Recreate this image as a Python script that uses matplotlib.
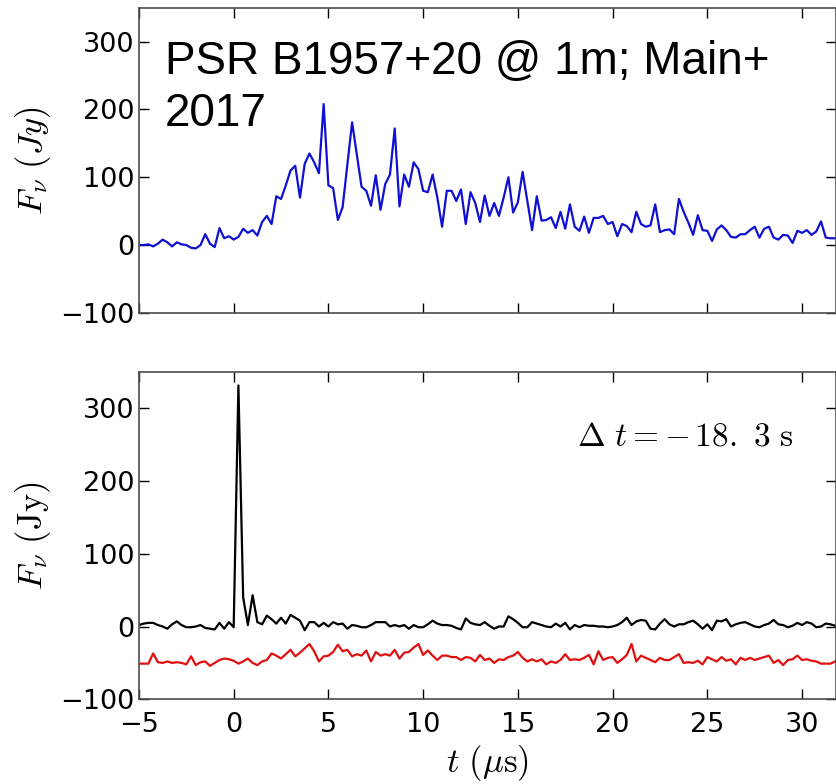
import numpy as np
import matplotlib
matplotlib.use("Agg")
import matplotlib.pyplot as plt

plt.rcParams['mathtext.fontset'] = 'cm'
plt.rcParams['font.family'] = ['DejaVu Sans']

# time grid step (microseconds), starting at -5
dt = 0.25
t_start = -5.0

# top panel: main pulse flux (Jy)
main_flux = [
    0, 0, 1, -2, 2, 8, 4, -2, 4, 1,
    0, -4, -5, 0, 16, 2, -3, 25, 10, 13,
    8, 12, 24, 18, 22, 14, 34, 43, 31, 72,
    68, 88, 110, 117, 70, 120, 135, 122, 106, 208,
    88, 84, 37, 56, 118, 181, 133, 86, 80, 58,
    103, 52, 90, 104, 172, 57, 104, 86, 122, 112,
    80, 78, 104, 70, 27, 80, 80, 65, 82, 31,
    78, 62, 34, 73, 43, 62, 43, 70, 100, 48,
    63, 108, 65, 22, 72, 36, 37, 41, 25, 49,
    24, 60, 27, 21, 42, 18, 40, 40, 43, 31,
    34, 13, 31, 28, 19, 49, 31, 27, 29, 60,
    19, 22, 23, 16, 68, 49, 33, 15, 44, 22,
    21, 6, 23, 29, 22, 12, 11, 16, 16, 22,
    27, 11, 24, 27, 11, 8, 15, 14, 3, 21,
    18, 22, 15, 20, 35, 11, 10, 10, 10,
]

# bottom panel: giant pulse (black) and offset trace (red)
giant_flux = [
    2, 4, 5, 5, 2, 0, -3, 3, 7, 2,
    -1, -1, 0, 2, -2, -3, -4, 5, -3, 6,
    -1, 331, 40, 2, 43, 6, 3, 15, 10, 4,
    12, 4, 16, 12, 8, -5, 6, 6, 0, 5,
    0, 6, 3, 4, -3, 2, 1, -1, -1, 2,
    6, 6, 6, 0, 2, 0, 2, -3, 2, -1,
    -1, 3, 8, 4, 2, 2, 1, -2, -4, 11,
    5, 3, 2, 6, 1, -3, 0, 0, 14, 10,
    5, -1, -1, 6, 4, 2, 0, -1, 4, 0,
    5, -4, 2, -1, 2, 1, 1, 0, 0, -1,
    0, 2, 6, 12, 2, 7, 9, 8, -3, -4,
    4, 10, 3, 0, 3, 3, 6, 8, 3, -3,
    3, -5, 8, 7, 10, 0, 3, 5, 6, 3,
    0, -1, 2, 4, 9, 3, 2, -1, 1, 5,
    2, 6, 4, -1, 0, 4, 3, 1, 1,
]

offset_flux = [
    -51, -51, -51, -37, -49, -50, -48, -50, -49, -50,
    -52, -41, -53, -49, -48, -54, -50, -46, -44, -45,
    -47, -51, -48, -44, -50, -53, -48, -46, -37, -40,
    -44, -38, -32, -41, -36, -30, -24, -34, -48, -41,
    -40, -35, -25, -34, -32, -41, -38, -40, -33, -48,
    -35, -40, -38, -40, -32, -44, -36, -35, -29, -24,
    -39, -33, -40, -46, -40, -40, -42, -42, -46, -42,
    -43, -48, -39, -46, -44, -50, -45, -46, -42, -40,
    -35, -43, -48, -45, -48, -45, -52, -48, -50, -46,
    -38, -46, -45, -46, -43, -39, -52, -34, -46, -43,
    -42, -50, -45, -39, -24, -48, -40, -43, -46, -49,
    -43, -46, -46, -42, -38, -50, -49, -50, -47, -52,
    -42, -45, -48, -42, -47, -45, -52, -43, -46, -43,
    -46, -44, -42, -40, -50, -46, -53, -46, -45, -40,
    -46, -45, -47, -48, -51, -51, -51, -48, -47,
]

x_ticks = [-5, 0, 5, 10, 15, 20, 25, 30]
y_ticks = [-100, 0, 100, 200, 300]

t_main = t_start + dt * np.arange(len(main_flux))
t_giant = t_start + dt * np.arange(len(giant_flux))

fig = plt.figure(figsize=(8.37, 7.84), dpi=100)
ax1 = fig.add_axes([0.166, 0.601, 0.833, 0.389])
ax2 = fig.add_axes([0.166, 0.108, 0.833, 0.418])

ax1.plot(t_main, main_flux, color='#1010d0', lw=1.6)
ax2.plot(t_giant, giant_flux, color='k', lw=1.6)
ax2.plot(t_giant, offset_flux, color='#e01010', lw=1.6)

for ax in (ax1, ax2):
    ax.set_xlim(-5, 31.8)
    ax.set_ylim(-100, 350)
    ax.set_xticks(x_ticks)
    ax.set_yticks(y_ticks)
    ax.tick_params(direction='in', top=True, right=True, length=7,
                   width=1, labelsize=19.5, colors='k')
    ax.tick_params(axis='x', pad=9)
    for sp in ax.spines.values():
        sp.set_color('0.3')
        sp.set_linewidth(1.2)

ax1.tick_params(labelbottom=False)
ax1.set_ylabel(r'$F_\nu\ (Jy)$', fontsize=25, labelpad=5)
ax2.set_ylabel(r'$F_\nu\ (\mathrm{Jy})$', fontsize=25, labelpad=5)
ax2.set_xlabel(r'$t\ (\mu\mathrm{s})$', fontsize=25, labelpad=4)

ax2.text(0.628, 0.774, r'$\Delta\ t= -\,18.\ 3\ \mathrm{s}$', fontsize=24,
         transform=ax2.transAxes, va='baseline')

fig.text(165 / 837, 1 - 40 / 784, 'PSR B1957+20 @ 1m; Main+\n2017',
         family=['Liberation Sans', 'DejaVu Sans'], fontsize=33,
         va='top', ha='left', linespacing=1.25)

fig.savefig('out.png', dpi=100, facecolor='white')
